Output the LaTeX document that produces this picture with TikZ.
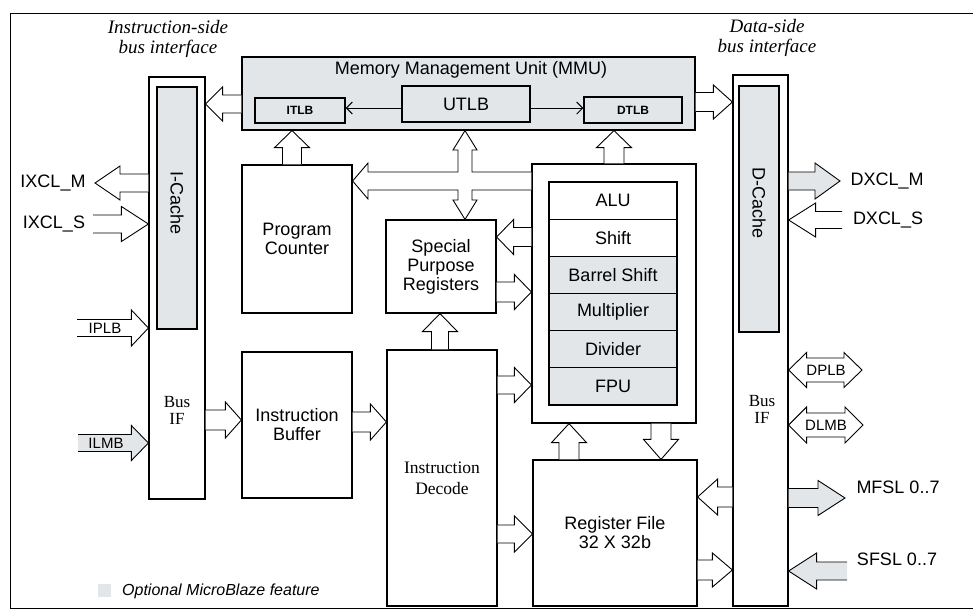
\documentclass[tikz,border=0pt]{standalone}
\usepackage{fontspec}
\setmainfont{Liberation Sans}
\newfontfamily\serifff{Liberation Serif}
\usetikzlibrary{calc,arrows.meta}
\definecolor{optgray}{HTML}{E3E6E9}
\tikzset{
  blk/.style={draw=black, line width=1.2pt, fill=white, inner sep=0pt, align=center, font=\fontsize{18}{19}\selectfont},
  optblk/.style={blk, fill=optgray},
  arr/.style={draw=black, line width=0.9pt, fill=white, line join=miter},
  arrg/.style={arr, fill=optgray},
  lab/.style={inner sep=0pt, font=\fontsize{18}{19}\selectfont},
  smalllab/.style={inner sep=0pt, font=\fontsize{15}{16}\selectfont},
  ital/.style={inner sep=0pt, align=center, font=\serifff\itshape\fontsize{19}{20}\selectfont},
  seriflab/.style={inner sep=0pt, align=center, font=\serifff\fontsize{17}{17}\selectfont},
  thinarr/.style={draw=black, line width=1pt, -{Straight Barb[length=6pt,width=12pt]}},
}
\newcommand\boxn[7]{%
  \pgfmathsetmacro\bxcx{(#3+#5)/2}%
  \pgfmathsetmacro\bxcy{(#4+#6)/2}%
  \pgfmathsetmacro\bxw{#5-#3}%
  \pgfmathsetmacro\bxh{#6-#4}%
  \node[#1, minimum width=\bxw pt, minimum height=\bxh pt] (#2) at (\bxcx,\bxcy) {#7};}
\newcommand\barrow[6][]{%
  \coordinate (bA) at #2; \coordinate (bB) at #3;
  \draw[arr,#1] ($(bA)!#6pt!90:(bB)$) -- ($(bB)!#4pt!(bA)!#6pt!-90:(bA)$) -- ($(bB)!#4pt!(bA)!#5pt!-90:(bA)$) -- (bB) -- ($(bB)!#4pt!(bA)!#5pt!90:(bA)$) -- ($(bB)!#4pt!(bA)!#6pt!90:(bA)$) -- ($(bA)!#6pt!-90:(bB)$);}
\newcommand\dbarrow[6][]{%
  \coordinate (bA) at #2; \coordinate (bB) at #3;
  \draw[arr,#1] (bA) -- ($(bA)!#4pt!(bB)!#5pt!90:(bB)$) -- ($(bA)!#4pt!(bB)!#6pt!90:(bB)$) -- ($(bB)!#4pt!(bA)!#6pt!-90:(bA)$) -- ($(bB)!#4pt!(bA)!#5pt!-90:(bA)$) -- (bB) -- ($(bB)!#4pt!(bA)!#5pt!90:(bA)$) -- ($(bB)!#4pt!(bA)!#6pt!90:(bA)$) -- ($(bA)!#4pt!(bB)!#6pt!-90:(bB)$) -- ($(bA)!#4pt!(bB)!#5pt!-90:(bB)$) -- cycle;}
\begin{document}
\begin{tikzpicture}[x=1pt,y=-1pt]
\useasboundingbox (0,0) rectangle (973,611);
% frame
\draw[line width=1pt] (973,13) -- (10,13) -- (10,608) -- (973,608);
% titles
\node[ital] (ist) at (168,39) {Instruction-side\\bus interface};
\node[ital] (dst) at (767,38) {Data-side\\bus interface};
% MMU
\boxn{optblk}{mmu}{242}{57}{695}{130}{}
\node[lab] (mmut) at (471,70) {Memory Management Unit (MMU)};
\boxn{optblk}{itlb}{255}{98}{345}{123}{\bfseries\fontsize{12}{12}\selectfont ITLB}
\boxn{optblk}{utlb}{402}{86}{530}{122}{UTLB}
\boxn{optblk}{dtlb}{584}{97}{682}{123}{\bfseries\fontsize{12}{12}\selectfont DTLB}
\draw[thinarr] (utlb.west |- 0,108) -- (itlb.east |- 0,108);
\draw[thinarr] (utlb.east |- 0,108) -- (dtlb.west |- 0,108);
% instruction side bus
\boxn{blk}{ibus}{149}{77}{205}{499}{}
\boxn{optblk}{icache}{157}{87}{197}{329}{}
\node[lab, rotate=-90] (icl) at (177,203) {I-Cache};
\node[seriflab] (ibl) at (177,410) {Bus\\IF};
% data side bus
\boxn{blk}{dbus}{733}{75}{788}{606}{}
\boxn{optblk}{dcache}{739}{86}{779}{332}{}
\node[lab, rotate=-90] (dcl) at (759,203) {D-Cache};
\node[seriflab] (dbl) at (762,409) {Bus\\IF};
% core blocks
\boxn{blk}{pc}{242}{165}{352}{313}{Program\\Counter}
\boxn{blk}{ibuf}{242}{352}{352}{498}{Instruction\\Buffer}
\boxn{blk}{spr}{386}{220}{496}{313}{Special\\Purpose\\Registers}
\boxn{blk}{idec}{387}{350}{497}{606}{}
\node[seriflab, font=\serifff\fontsize{17.5}{21}\selectfont] (idl) at (442,478) {Instruction\\Decode};
\boxn{blk}{exec}{532}{164}{696}{423}{}
\boxn{blk}{alu}{549}{182}{677}{219.2}{ALU}
\boxn{blk}{shf}{549}{219.2}{677}{256.3}{Shift}
\boxn{optblk}{bsh}{549}{256.3}{677}{293.5}{Barrel Shift}
\boxn{optblk}{mul}{549}{293.5}{677}{330.7}{Multiplier}
\boxn{optblk}{div}{549}{330.7}{677}{367.8}{Divider}
\boxn{optblk}{fpu}{549}{367.8}{677}{405}{FPU}
\boxn{blk}{regf}{533}{460}{697}{606}{Register File\\32 X 32b}
% block arrows
\barrow{(mmu.west |- 0,104)}{(ibus.east |- 0,104)}{17}{17}{9}
\barrow{(pc.north -| 292,0)}{(mmu.south -| 292,0)}{17}{17.5}{9.5}
\barrow{(exec.north -| 614,0)}{(mmu.south -| 614,0)}{17}{17.5}{10}
\barrow{(mmu.east |- 0,102)}{(dbus.west |- 0,102)}{19}{17}{9.5}
\barrow{(ibus.east |- 0,420)}{(ibuf.west |- 0,420)}{16}{18}{10}
\barrow{(ibuf.east |- 0,422)}{(idec.west |- 0,422)}{16}{18}{10}
\barrow{(idec.north -| 440,0)}{(spr.south -| 440,0)}{18}{17.5}{8.5}
\barrow{(exec.west |- 0,237)}{(spr.east |- 0,237)}{17}{17.5}{9.5}
\barrow{(spr.east |- 0,292)}{(exec.west |- 0,292)}{17}{17.5}{10}
\barrow{(idec.east |- 0,385)}{(exec.west |- 0,385)}{17}{17.5}{9}
\barrow{(idec.east |- 0,534)}{(regf.west |- 0,534)}{18}{18}{9}
\barrow{(regf.north -| 569,0)}{(exec.south -| 569,0)}{19}{17.5}{10}
\barrow{(exec.south -| 661,0)}{(regf.north -| 661,0)}{20}{17.5}{10}
\barrow{(dbus.west |- 0,497)}{(regf.east |- 0,497)}{20}{18}{10}
\barrow{(regf.east |- 0,570)}{(dbus.west |- 0,570)}{20}{17}{10}
% branched arrow from execution block
\draw[arr] (exec.west |- 0,172) -- (472,172) -- (472,150) -- (477,150) -- (mmu.south -| 465,0) -- (453,150) -- (458,150) -- (458,172) -- (368,172) -- (368,163) -- (pc.east |- 0,181) -- (368,199) -- (368,190) -- (458,190) -- (458,200) -- (453,200) -- (spr.north -| 465,0) -- (477,200) -- (472,200) -- (472,190) -- (exec.west |- 0,190);
% external interfaces, instruction side
\coordinate (ixmend) at (95,183);
\coordinate (ixsend) at (93,224);
\coordinate (iplbend) at (77,328);
\coordinate (ilmbend) at (78,443);
\barrow{(ibus.west |- 0,183)}{(ixmend)}{25}{17}{9}
\barrow{(ixsend)}{(ibus.west |- 0,224)}{27}{17.5}{9}
\barrow{(iplbend)}{(ibus.west |- 0,328)}{17}{18}{8.5}
\barrow[arrg]{(ilmbend)}{(ibus.west |- 0,443)}{17}{17.5}{8.5}
\node[lab] (ixm) at (53,183) {IXCL\_M};
\node[lab] (ixs) at (54,224) {IXCL\_S};
\node[smalllab] (iplb) at (105,328) {IPLB};
\node[smalllab] (ilmb) at (106,443) {ILMB};
% external interfaces, data side
\coordinate (dxmend) at (840,181);
\coordinate (dxsend) at (842,220);
\coordinate (dplbend) at (862,370);
\coordinate (dlmbend) at (863,425);
\coordinate (mfslend) at (845,498);
\coordinate (sfslend) at (847,571);
\barrow[arrg]{(dbus.east |- 0,181)}{(dxmend)}{25}{18}{9}
\barrow{(dxsend)}{(dbus.east |- 0,220)}{27}{17}{8.5}
\dbarrow{(dbus.east |- 0,370)}{(dplbend)}{18}{17.5}{12}
\dbarrow{(dbus.east |- 0,425)}{(dlmbend)}{18}{18}{12}
\barrow[arrg]{(dbus.east |- 0,498)}{(mfslend)}{27}{17.5}{9.5}
\barrow[arrg]{(sfslend)}{(dbus.east |- 0,571)}{28}{18}{9}
\node[lab] (dxm) at (887,181) {DXCL\_M};
\node[lab] (dxs) at (888,220) {DXCL\_S};
\node[smalllab] (dplb) at (826,370) {DPLB};
\node[smalllab] (dlmb) at (826,425) {DLMB};
\node[lab] (mfsl) at (898,487) {MFSL 0..7};
\node[lab] (sfsl) at (897,559) {SFSL 0..7};
% legend
\node[fill=optgray, minimum size=13pt, inner sep=0pt] (lgsq) at (104,590) {};
\node[inner sep=0pt, anchor=west, font=\itshape\fontsize{16}{16}\selectfont] (lgt) at (122,591) {Optional MicroBlaze feature};
\end{tikzpicture}
\end{document}
